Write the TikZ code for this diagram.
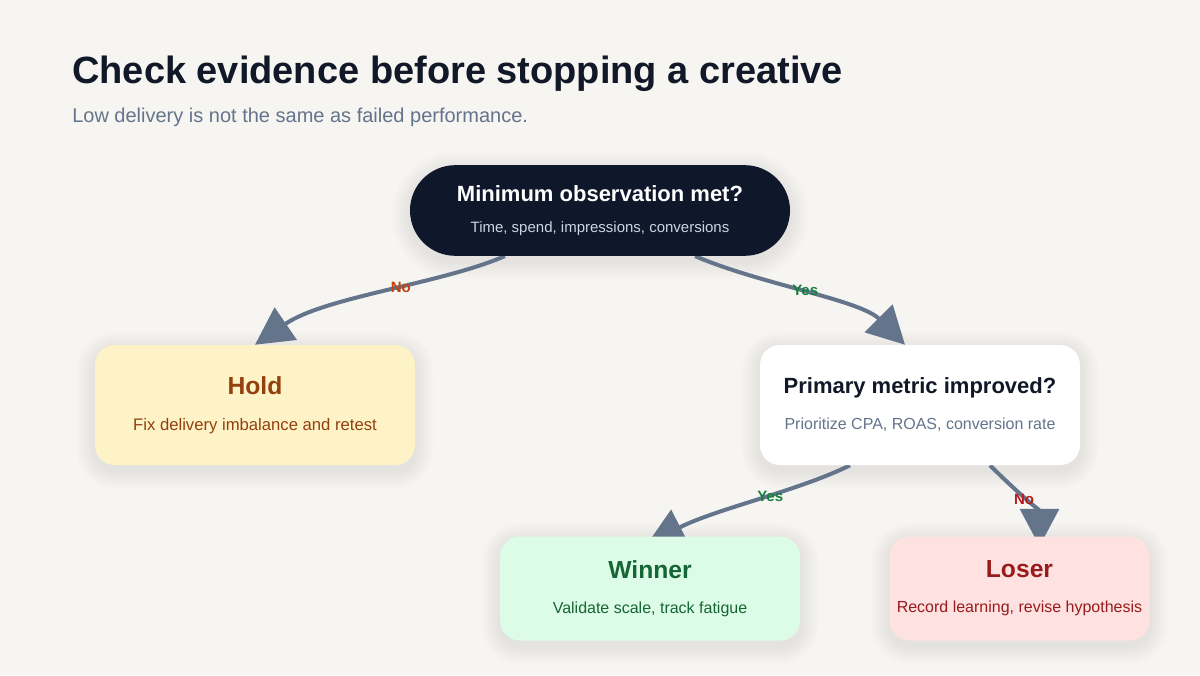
\documentclass[tikz,border=0pt]{standalone}
\usepackage{fontspec}
\setmainfont{Liberation Sans}
\usetikzlibrary{arrows.meta,calc,backgrounds}

\definecolor{pagebg}{HTML}{F6F5F2}
\definecolor{inkdark}{HTML}{111827}
\definecolor{slate}{HTML}{64748B}
\definecolor{rootfill}{HTML}{0F172A}
\definecolor{rootsub}{HTML}{CBD5E1}
\definecolor{holdfill}{HTML}{FEF3C7}
\definecolor{holdtext}{HTML}{92400E}
\definecolor{winfill}{HTML}{DCFCE7}
\definecolor{wintext}{HTML}{166534}
\definecolor{losefill}{HTML}{FEE2E2}
\definecolor{losetext}{HTML}{991B1B}
\definecolor{nocol}{HTML}{C2410C}
\definecolor{yescol}{HTML}{15803D}
\definecolor{redno}{HTML}{B91C1C}

\newcommand{\boxtitle}[2]{{\fontsize{#1}{#1}\selectfont\bfseries #2}}

\tikzset{
  card/.style={rectangle, rounded corners=15pt, align=center},
  pill/.style={rectangle, rounded corners=34pt, align=center},
  flow/.style={draw=slate, line width=3pt, -{Triangle[length=28pt,width=29pt]}},
  lbl/.style={font=\fontsize{11.25}{13}\selectfont\bfseries, inner sep=1pt}
}

\begin{document}
\begin{tikzpicture}[x=0.75pt,y=-0.75pt]
\begin{pgfonlayer}{background}
\fill[pagebg] (0,0) rectangle (1200,675);
\end{pgfonlayer}
\useasboundingbox (0,0) rectangle (1200,675);

\node[anchor=base west, text=inkdark, font=\fontsize{28.5}{32}\selectfont\bfseries, inner sep=0pt] (title) at (72,83) {Check evidence before stopping a creative};
\node[anchor=base west, text=slate, font=\fontsize{15}{18}\selectfont, inner sep=0pt] (subtitle) at (72,122) {Low delivery is not the same as failed performance.};

% decision nodes
\node[pill, fill=rootfill, minimum width=285pt, minimum height=68pt,
  text=rootsub, font=\fontsize{11.25}{13}\selectfont] (root) at (600,210.5)
  {\textcolor{white}{\boxtitle{16.5}{Minimum observation met?}}\\[10pt] Time, spend, impressions, conversions};
\node[card, fill=white, minimum width=240pt, minimum height=90pt,
  text=slate, font=\fontsize{12}{14}\selectfont] (primary) at (920,405)
  {\textcolor{inkdark}{\boxtitle{16.5}{Primary metric improved?}}\\[13pt] Prioritize CPA, ROAS, conversion rate};

% outcome nodes
\node[card, fill=holdfill, minimum width=240pt, minimum height=90pt,
  text=holdtext, font=\fontsize{12.5}{14}\selectfont] (hold) at (255,405)
  {\boxtitle{18.5}{Hold}\\[13pt] Fix delivery imbalance and retest};
\node[card, fill=winfill, minimum width=225pt, minimum height=78pt,
  text=wintext, font=\fontsize{12}{14}\selectfont] (winner) at (650,588.5)
  {\boxtitle{18.5}{Winner}\\[12pt] Validate scale, track fatigue};
\node[card, fill=losefill, minimum width=195pt, minimum height=78pt,
  text=losetext, font=\fontsize{12}{14}\selectfont] (loser) at (1019.5,588.5)
  {\boxtitle{18.5}{Loser}\\[12pt] Record learning, revise hypothesis};

\begin{pgfonlayer}{background}
% soft halos under the boxes
\foreach \n/\r in {root/34, primary/15, hold/15, winner/15, loser/15}
  \foreach \g in {2,4,...,18}
    \fill[black, opacity=0.0065, rounded corners=\r pt+\g*0.75pt]
      ($(\n.south west)+(-\g,\g+5)$) rectangle ($(\n.north east)+(\g,-\g+5)$);
\draw[flow] ($(root.south)!0.5!(root.south west)$) .. controls +(-65,28) and +(70,-48) .. (hold.north)
  node[lbl, text=nocol, pos=0.43] (no1) {No};
\draw[flow] ($(root.south)!0.5!(root.south east)$) .. controls +(65,28) and +(-45,-45) .. ($(primary.north)+(-15,0)$)
  node[lbl, text=yescol, pos=0.49, yshift=2pt] (yes1) {Yes};
\draw[flow] ($(primary.south)+(-70,0)$) .. controls +(-50,25) and +(68,-35) .. ($(winner.north)+(-3,8)$)
  node[lbl, text=yescol, pos=0.43] (yes2) {Yes};
\draw[flow] ($(primary.south)+(70,0)$) .. controls +(25,25) and +(0,-35) .. ($(loser.north)+(20,10)$)
  node[lbl, text=redno, pos=0.5, yshift=2pt] (no2) {No};
\end{pgfonlayer}
\end{tikzpicture}
\end{document}
